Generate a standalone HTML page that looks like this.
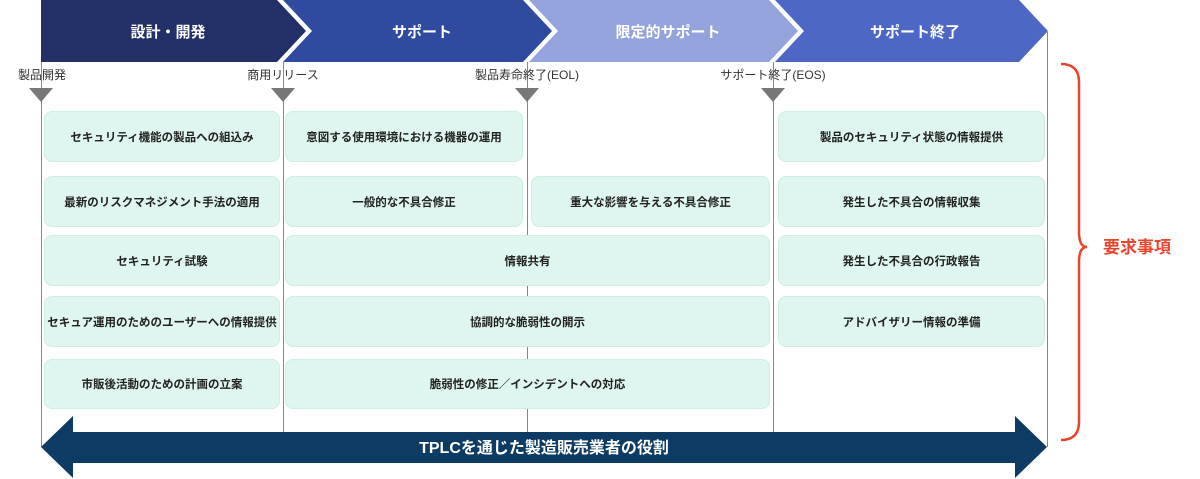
<!DOCTYPE html>
<html><head><meta charset="utf-8"><style>
html,body{margin:0;padding:0;background:#fff;width:1200px;height:479px;overflow:hidden}
body{position:relative;font-family:"Liberation Sans","Noto Sans CJK JP",sans-serif}
.b{position:absolute;background:#dff5ef;border:1px solid #cdeee3;border-radius:8px;box-sizing:border-box;display:flex;align-items:center;justify-content:center;font-size:11.5px;font-weight:bold;color:#222;white-space:nowrap}
.lb{position:absolute;font-size:12px;color:#333;transform:translateX(-50%);white-space:nowrap;top:66px}
.vl{position:absolute;width:1px;background:#888;top:62px;height:385px}
.tri{position:absolute;top:88px;width:0;height:0;border-left:12px solid transparent;border-right:12px solid transparent;border-top:14px solid #777;transform:translateX(-50%)}
</style></head><body>
<svg width="1200" height="479" style="position:absolute;left:0;top:0">
<polygon points="41,0 281,0 310,31 281,62 41,62" fill="#233068"/>
<polygon points="277,0 521,0 550,31 521,62 277,62 306,31" fill="#fff"/>
<polygon points="283,0 527,0 556,31 527,62 283,62 312,31" fill="#2f4a9e"/>
<polygon points="523,0 767,0 796,31 767,62 523,62 552,31" fill="#fff"/>
<polygon points="529,0 773,0 802,31 773,62 529,62 558,31" fill="#94a3dc"/>
<polygon points="769,0 1013,0 1042,31 1013,62 769,62 798,31" fill="#fff"/>
<polygon points="775,0 1019,0 1048,31 1019,62 775,62 804,31" fill="#4e66c4"/>
<g font-family="Liberation Sans, Noto Sans CJK JP, sans-serif" font-size="15" font-weight="bold" fill="#fff" text-anchor="middle">
<text x="168" y="37">設計・開発</text>
<text x="422" y="37">サポート</text>
<text x="668" y="37">限定的サポート</text>
<text x="915" y="37">サポート終了</text>
</g>
<path d="M1061,64 Q1079,64 1079,82 L1079,232 Q1079,247 1087,247 Q1079,247 1079,262 L1079,422 Q1079,440 1061,440" fill="none" stroke="#e8452c" stroke-width="2.5"/>
<text x="1103" y="253" font-family="Liberation Sans, Noto Sans CJK JP, sans-serif" font-size="17" font-weight="bold" fill="#e8452c">要求事項</text>
</svg>
<div class="vl" style="left:41px"></div>
<div class="vl" style="left:283px"></div>
<div class="vl" style="left:527px"></div>
<div class="vl" style="left:773px"></div>
<div class="vl" style="left:1047px;top:32px;height:415px"></div>
<div class="lb" style="left:42px">製品開発</div>
<div class="lb" style="left:283px">商用リリース</div>
<div class="lb" style="left:527px">製品寿命終了(EOL)</div>
<div class="lb" style="left:773px">サポート終了(EOS)</div>
<div class="tri" style="left:41px"></div>
<div class="tri" style="left:283px"></div>
<div class="tri" style="left:527px"></div>
<div class="tri" style="left:773px"></div>

<div class="b" style="left:44px;top:111px;width:236px;height:51px">セキュリティ機能の製品への組込み</div>
<div class="b" style="left:285px;top:111px;width:238px;height:51px">意図する使用環境における機器の運用</div>
<div class="b" style="left:778px;top:111px;width:267px;height:51px">製品のセキュリティ状態の情報提供</div>

<div class="b" style="left:44px;top:176px;width:236px;height:51px">最新のリスクマネジメント手法の適用</div>
<div class="b" style="left:285px;top:176px;width:238px;height:51px">一般的な不具合修正</div>
<div class="b" style="left:531px;top:176px;width:239px;height:51px">重大な影響を与える不具合修正</div>
<div class="b" style="left:778px;top:176px;width:267px;height:51px">発生した不具合の情報収集</div>

<div class="b" style="left:44px;top:235px;width:236px;height:51px">セキュリティ試験</div>
<div class="b" style="left:285px;top:235px;width:485px;height:51px">情報共有</div>
<div class="b" style="left:778px;top:235px;width:267px;height:51px">発生した不具合の行政報告</div>

<div class="b" style="left:44px;top:296px;width:236px;height:51px">セキュア運用のためのユーザーへの情報提供</div>
<div class="b" style="left:285px;top:296px;width:485px;height:51px">協調的な脆弱性の開示</div>
<div class="b" style="left:778px;top:296px;width:267px;height:51px">アドバイザリー情報の準備</div>

<div class="b" style="left:44px;top:359px;width:236px;height:50px">市販後活動のための計画の立案</div>
<div class="b" style="left:285px;top:359px;width:485px;height:50px">脆弱性の修正／インシデントへの対応</div>

<svg width="1200" height="479" style="position:absolute;left:0;top:0">
<polygon points="41,447 73,416 73,432 1015,432 1015,416 1047,447 1015,478 1015,463 73,463 73,478" fill="#0d3b63"/>
<text x="544" y="453" text-anchor="middle" font-family="Liberation Sans, Noto Sans CJK JP, sans-serif" font-size="16" font-weight="bold" fill="#fff">TPLCを通じた製造販売業者の役割</text>
</svg>
</body></html>
